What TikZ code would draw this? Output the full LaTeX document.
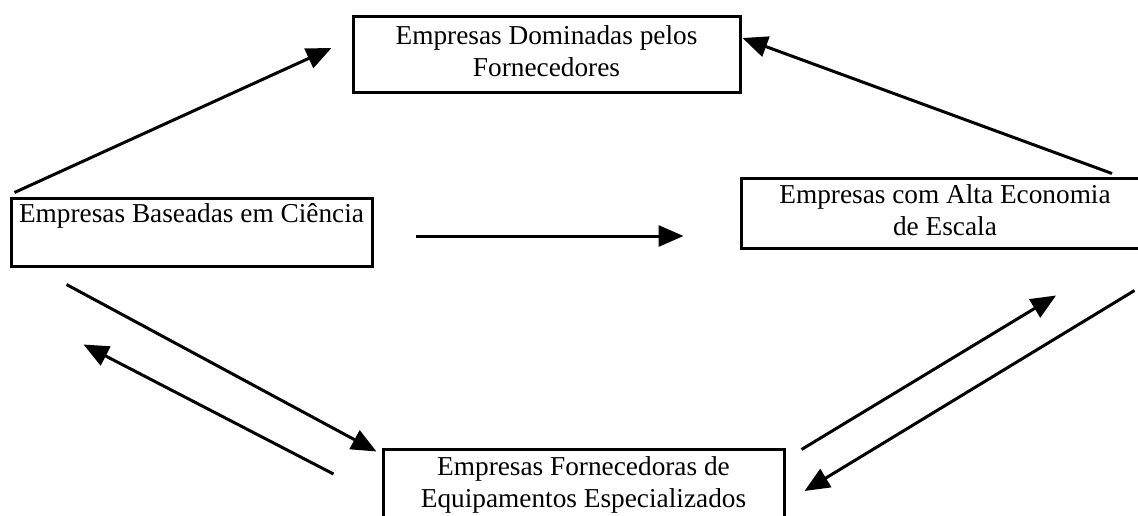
\documentclass[tikz,border=0pt]{standalone}
\usepackage{fontspec}
\setmainfont{Liberation Serif}
\usetikzlibrary{arrows.meta,calc}
\begin{document}
\begin{tikzpicture}[x=1pt,y=-1pt,
  firm/.style={draw, line width=3pt, inner sep=0pt, align=center,
    font=\fontsize{27.3}{32}\selectfont},
  arr/.style={line width=3pt, -{Triangle[length=25pt,width=21pt]}}]
\useasboundingbox (0,0) rectangle (1138,515);
\clip (0,0) rectangle (1138,515);
% boxes
\node[firm, minimum width=387pt, minimum height=76pt] (tb) at (546.5,54)
  {\strut Empresas Dominadas pelos\\\strut Fornecedores};
\node[firm, minimum width=361pt, minimum height=68pt] (lb) at (191.5,232)
  {\strut Empresas Baseadas em Ciência\\\strut};
\node[firm, minimum width=408pt, minimum height=70pt] (rb) at (945,213)
  {\strut Empresas com Alta Economia\\\strut de Escala};
\node[firm, minimum width=401pt, minimum height=72pt] (bb) at (583.5,485)
  {\strut Empresas Fornecedoras de\\\strut Equipamentos Especializados};
% arrows
\draw[arr] ($(lb.north west)+(5,-4)$) -- ($(tb.west)+(-20,-6)$);
\draw[arr] ($(rb.north)+(167,-3)$) -- ($(tb.east)+(1,-16)$);
\draw[arr] ($(lb.east)+(42,4)$) -- ($(rb.west)+(-56,23)$);
\draw[arr] ($(lb.south west)+(57,17)$) -- ($(bb.north west)+(-5,4)$);
\draw[arr] ($(bb.west)+(-48,-11)$) -- ($(lb.south west)+(74,77)$);
\draw[arr] ($(bb.north east)+(16,2)$) -- ($(rb.south)+(111,46)$);
\draw[arr] ($(rb.south east)+(-16,41)$) -- ($(bb.east)+(19,6)$);
\end{tikzpicture}
\end{document}
